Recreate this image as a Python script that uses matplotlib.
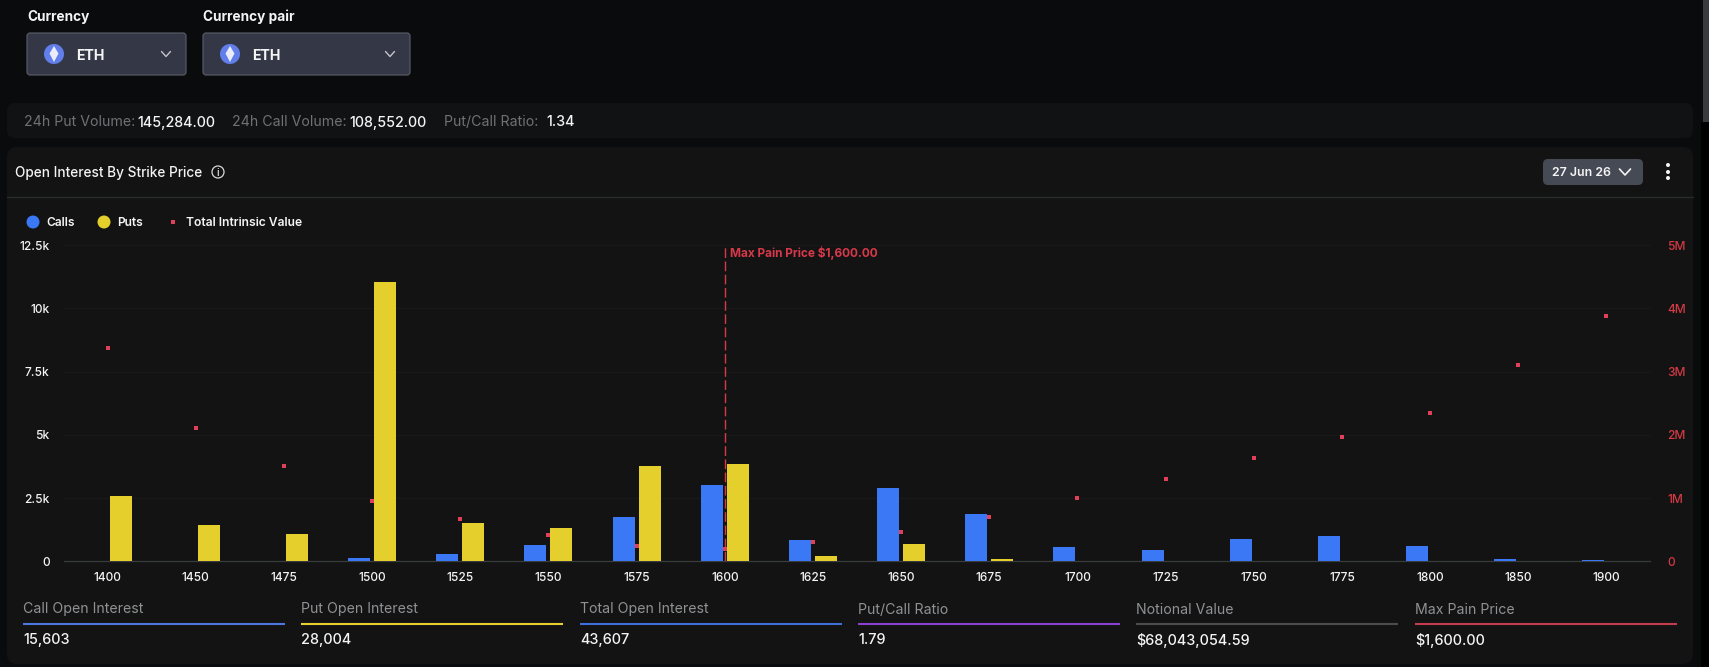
import numpy as np
import matplotlib.pyplot as plt
from matplotlib.patches import Circle, FancyBboxPatch, Polygon, Rectangle

plt.rcParams['font.family'] = ['Inter', 'DejaVu Sans']

# Open interest per strike, in thousands of contracts
strikes = ["1400", "1450", "1475", "1500", "1525", "1550", "1575", "1600", "1625",
           "1650", "1675", "1700", "1725", "1750", "1775", "1800", "1850", "1900"]
calls = [0, 0, 0, 0.13, 0.29, 0.645, 1.75, 3.02, 0.83, 2.9, 1.87, 0.57, 0.45, 0.88, 1.0, 0.61, 0.09, 0.05]
puts = [2.58, 1.44, 1.08, 11.04, 1.515, 1.32, 3.77, 3.85, 0.2, 0.685, 0.09, 0, 0, 0, 0, 0, 0, 0]
# Total intrinsic value per strike, in millions
intrinsic = [3.37, 2.11, 1.51, 0.954, 0.67, 0.416, 0.24, 0.19, 0.30, 0.46, 0.70, 1.0, 1.30, 1.634, 1.966, 2.346, 3.105, 3.88]

oi_ticks = [0, 2.5, 5, 7.5, 10, 12.5]
oi_labels = ["0", "2.5k", "5k", "7.5k", "10k", "12.5k"]
iv_ticks = [0, 1, 2, 3, 4, 5]
iv_labels = ["0", "1M", "2M", "3M", "4M", "5M"]
max_pain_strike = "1600"

volume_stats = [("24h Put Volume:", "145,284.00", 24, 137.5),
                ("24h Call Volume:", "108,552.00", 232, 349),
                ("Put/Call Ratio:", "1.34", 444, 546)]
summary_names = ["Call Open Interest", "Put Open Interest", "Total Open Interest",
                 "Put/Call Ratio", "Notional Value", "Max Pain Price"]
summary_values = ["15,603", "28,004", "43,607", "1.79", "$68,043,054.59", "$1,600.00"]
summary_colors = ["#4a78e0", "#e5cf2d", "#3f6fd8", "#8a3fd0", "#4a4c50", "#c23c50"]
summary_left = [23, 301, 580, 858, 1136, 1415]

W, H = 1709, 667
PAGE = "#0a0b0d"
PANEL = "#131313"
BLUE = "#3b78f6"
YELLOW = "#e5cf2d"
RED = "#d8394a"
WHITE = "#f4f4f4"

fig = plt.figure(figsize=(W / 100, H / 100), dpi=100, facecolor=PAGE)

# Page furniture is laid out in pixels on a full-size background axes
ui = fig.add_axes([0, 0, 1, 1])
ui.set_xlim(0, W)
ui.set_ylim(H, 0)
ui.axis("off")


def round_box(x0, y0, x1, y1, r, fc, ec="none", lw=0):
    ui.add_patch(FancyBboxPatch((x0 + r, y0 + r), x1 - x0 - 2 * r, y1 - y0 - 2 * r,
                                boxstyle=f"round,pad={r},rounding_size={r}",
                                fc=fc, ec=ec, lw=lw))


def label(x, y, s, size=9.5, color=WHITE, weight="medium", ha="left"):
    ui.text(x, y, s, fontsize=size, color=color, fontweight=weight, ha=ha, va="center_baseline")


def chevron(x, y, half, drop, color, lw):
    ui.plot([x - half, x, x + half], [y - drop, y + drop, y - drop], color=color, lw=lw,
            solid_capstyle="round", solid_joinstyle="round")


def eth_dropdown(x0, x1, title):
    label(x0, 15, title, size=9.8, weight="bold")
    round_box(x0, 33, x1, 75, 3, "#343846", ec="#5a5e68", lw=0.8)
    cx = x0 + 27
    ui.add_patch(Circle((cx, 54), 10, fc="#627eea", ec="none"))
    ui.add_patch(Polygon([[cx, 46], [cx + 4.5, 53.5], [cx, 62], [cx - 4.5, 53.5]], fc="#e8ecfb", ec="none"))
    label(x0 + 49, 54, "ETH", size=10.2, weight="bold")
    chevron(x1 - 20, 54, 4.5, 2.5, "#c4c6cc", 1.0)


eth_dropdown(27, 186, "Currency")
eth_dropdown(203, 410, "Currency pair")

# Volume strip
round_box(7, 103, 1693, 138, 8, "#111213")
for name, value, name_x, value_x in volume_stats:
    label(name_x, 121, name, size=10.2, color="#6f7176", weight="normal")
    label(value_x, 121, value, size=10.3)

# Chart panel
round_box(7, 147, 1693, 664, 10, PANEL)
ui.plot([7, 1693], [197, 197], color="#2a2b2d", lw=0.9)
label(15, 172, "Open Interest By Strike Price", size=9.8)
ui.add_patch(Circle((218, 172), 6, fc="none", ec="#d8d8d8", lw=0.9))
label(218, 172, "i", size=7, ha="center")

round_box(1543, 159, 1643, 185, 5, "#464a54")
label(1552, 172, "27 Jun 26", size=8.9, weight="semibold")
chevron(1625, 172, 5.5, 3, WHITE, 1.2)
for dot_y in [165, 172, 178]:
    ui.add_patch(Circle((1668, dot_y), 2, fc=WHITE, ec="none"))

# Legend
ui.add_patch(Circle((33, 222), 6.5, fc=BLUE, ec="none"))
label(46, 222, "Calls", size=8.6, weight="semibold")
ui.add_patch(Circle((104, 222), 6.5, fc=YELLOW, ec="none"))
label(117, 222, "Puts", size=8.6, weight="semibold")
ui.add_patch(Rectangle((171, 220), 4, 4, fc="#e0405a", ec="none"))
label(186, 222, "Total Intrinsic Value", size=8.7, weight="semibold")

# Summary row under the chart
for name, value, color, left in zip(summary_names, summary_values, summary_colors, summary_left):
    label(left, 608, name, size=10.2, color="#8f9194", weight="normal")
    ui.plot([left, left + 262], [624, 624], color=color, lw=1.5, solid_capstyle="butt")
    label(left, 638.5, value, size=10.4)

# Scrollbar
ui.add_patch(Rectangle((1701, 122), 8, H - 122, fc="#000000", ec="none"))
ui.add_patch(Rectangle((1703, 0), 6, 122, fc="#3a3b3d", ec="none"))

# Chart axes, placed on the pixel grid of the panel
left, right, top, bottom = 63.5, 1650.5, 245.0, 561.3
ax = fig.add_axes([left / W, 1 - bottom / H, (right - left) / W, (bottom - top) / H])
ax.patch.set_alpha(0)
x = np.arange(len(strikes))
ax.bar(x - 0.1475, calls, width=0.25, color=BLUE, zorder=3)
ax.bar(x + 0.1475, puts, width=0.25, color=YELLOW, zorder=3)
ax.set_xlim(-0.5, len(strikes) - 0.5)
ax.set_ylim(0, 12.5)
ax.set_xticks(x, strikes)
ax.set_yticks(oi_ticks, oi_labels)
ax.grid(axis="y", color="#19191a", lw=0.8, zorder=0)
ax.set_axisbelow(True)
ax.tick_params(axis="both", length=0, labelcolor=WHITE, labelsize=8.6)
ax.tick_params(axis="x", pad=8)
ax.tick_params(axis="y", pad=10)
for spine in ["top", "left", "right"]:
    ax.spines[spine].set_visible(False)
ax.spines["bottom"].set_color("#3a3b3d")
ax.spines["bottom"].set_linewidth(0.9)
for tick in ax.get_xticklabels() + ax.get_yticklabels():
    tick.set_fontweight("medium")

pain_x = strikes.index(max_pain_strike)
ax.axvline(pain_x, color=RED, lw=1.0, ls=(0, (7, 2.5)), zorder=4)
ax.annotate("Max Pain Price $1,600.00", (pain_x, 12.5), xytext=(5.5, -7), textcoords="offset pixels",
            color=RED, fontsize=8.5, fontweight="bold", ha="left", va="center_baseline")

ax2 = ax.twinx()
ax2.patch.set_alpha(0)
ax2.scatter(x, intrinsic, marker="s", s=11, color="#e0405a", linewidths=0, zorder=5)
ax2.set_ylim(0, 5)
ax2.set_yticks(iv_ticks, iv_labels)
ax2.tick_params(axis="y", length=0, labelcolor="#d23a44", labelsize=8.6, pad=12)
for tick in ax2.get_yticklabels():
    tick.set_fontweight("medium")
for spine in ax2.spines.values():
    spine.set_visible(False)

fig.savefig("out.png", dpi=100, facecolor=PAGE)
